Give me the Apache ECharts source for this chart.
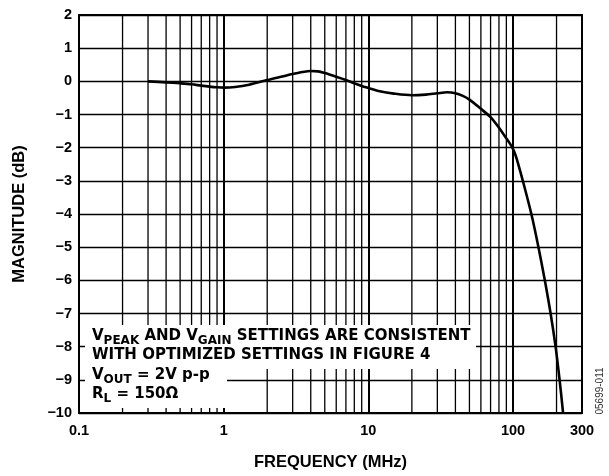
<!DOCTYPE html>
<html>
<head>
<meta charset="utf-8">
<script src="https://cdn.jsdelivr.net/npm/echarts@6/dist/echarts.min.js"></script>
<style>
  html, body { margin: 0; padding: 0; background: #fff; }
  #chart { width: 609px; height: 476px; }
</style>
</head>
<body>
<div id="chart"></div>
<script>
// Frequency (MHz) and magnitude (dB)
const frequency = [0.3, 0.4, 0.5, 0.6, 0.7, 0.8, 0.9, 1.0, 1.2, 1.5, 2, 2.5, 3, 3.5, 4, 4.5, 5, 6, 7, 8, 9, 10, 12, 15, 20, 25, 30, 35, 40, 45, 50, 60, 70, 80, 90, 95, 99, 104, 108, 117, 134, 150, 166, 182, 197, 210, 222];
const magnitude = [0.0, -0.03, -0.06, -0.09, -0.13, -0.16, -0.18, -0.19, -0.17, -0.1, 0.04, 0.14, 0.22, 0.28, 0.31, 0.3, 0.25, 0.14, 0.04, -0.06, -0.14, -0.2, -0.3, -0.37, -0.42, -0.4, -0.36, -0.33, -0.36, -0.44, -0.55, -0.83, -1.08, -1.4, -1.72, -1.87, -2.0, -2.22, -2.45, -3.0, -4.0, -5.0, -6.0, -7.0, -8.0, -9.0, -10.0];
// Minor (log) vertical grid lines
const minorGrid = [0.2, 0.3, 0.4, 0.5, 0.6, 0.7, 0.8, 0.9, 2, 3, 4, 5, 6, 7, 8, 9, 20, 30, 40, 50, 60, 70, 80, 90, 200];
// Axis ranges and tick labels
const xMin = 0.1, xMax = 300;
const yMin = -10, yMax = 2, yStep = 1;
const xTickLabels = { '0.1': '0.1', '1': '1', '10': '10', '100': '100', '300': '300' };
// Annotation lines: [text, isSubscript] pieces
const noteLines = [
  [['V', false], ['PEAK', true], [' AND V', false], ['GAIN', true], [' SETTINGS ARE CONSISTENT', false]],
  [['WITH OPTIMIZED SETTINGS IN FIGURE 4', false]],
  [['V', false], ['OUT', true], [' = 2V p-p', false]],
  [['R', false], ['L', true], [' = 150\u03A9', false]]
];

const FONT = "'Liberation Sans', Arial, sans-serif";
const NOTE_FONT = "'DejaVu Sans', sans-serif";
const MAIN_FS = 15, SUB_FS = 12;
const noteX = 92;
const noteBaselines = [341.7, 360.3, 380, 399.3];
const subDrop = 3.8;

const measureCtx = document.createElement('canvas').getContext('2d');
function textWidth(t, fs) {
  measureCtx.font = 'bold ' + fs + 'px ' + NOTE_FONT;
  return measureCtx.measureText(t).width;
}

function noteElements() {
  const els = [];
  noteLines.forEach(function (parts, li) {
    let x = noteX;
    const base = noteBaselines[li];
    parts.forEach(function (p) {
      const fs = p[1] ? SUB_FS : MAIN_FS;
      const b = p[1] ? base + subDrop : base;
      els.push({
        type: 'text', z: 101, silent: true,
        style: {
          text: p[0], x: x, y: b - 0.346 * fs, align: 'left', verticalAlign: 'middle',
          fontSize: fs, fontWeight: 'bold', fontFamily: NOTE_FONT, fill: '#000', lineHeight: fs + 2
        }
      });
      x += textWidth(p[0], fs);
    });
  });
  return els;
}

const chart = echarts.init(document.getElementById('chart'), null, { renderer: 'canvas' });

const option = {
  animation: false,
  backgroundColor: '#fff',
  grid: { left: 79, right: 27, top: 15, bottom: 60, show: true, borderColor: '#000', borderWidth: 2, backgroundColor: 'transparent' },
  xAxis: {
    type: 'log', logBase: 10, min: xMin, max: xMax,
    name: 'FREQUENCY (MHz)', nameLocation: 'middle', nameGap: 41,
    nameTextStyle: { fontSize: 16.5, fontWeight: 'bold', fontFamily: FONT, color: '#000' },
    axisLine: { show: false },
    axisTick: { show: false },
    axisLabel: {
      fontSize: 14.5, fontWeight: 'bold', fontFamily: FONT, color: '#000', margin: 10,
      formatter: function (v) {
        const key = String(Math.round(v * 10) / 10);
        return xTickLabels[key] !== undefined ? xTickLabels[key] : '';
      }
    },
    splitLine: { show: true, lineStyle: { color: '#000', width: 2 } },
    minorTick: { show: false },
    minorSplitLine: { show: false }
  },
  yAxis: {
    type: 'value', min: yMin, max: yMax, interval: yStep,
    name: 'MAGNITUDE (dB)', nameLocation: 'middle', nameGap: 51,
    nameTextStyle: { fontSize: 16.5, fontWeight: 'bold', fontFamily: FONT, color: '#000' },
    axisLine: { show: false },
    axisTick: { show: false },
    axisLabel: {
      fontSize: 14.5, fontWeight: 'bold', fontFamily: FONT, color: '#000', margin: 7,
      formatter: function (v) { return v < 0 ? '\u2212' + Math.abs(v) : String(v); }
    },
    splitLine: { show: true, lineStyle: { color: '#000', width: 1.4 } }
  },
  series: [
    {
      type: 'custom', z: 1, silent: true, clip: false,
      data: minorGrid.map(function (v) { return [v, yMin]; }),
      encode: { x: 0, y: 1 },
      renderItem: function (params, api) {
        const p1 = api.coord([api.value(0), yMax]);
        const p2 = api.coord([api.value(0), yMin]);
        return { type: 'line', shape: { x1: p1[0], y1: p1[1], x2: p2[0], y2: p2[1] }, style: { stroke: '#000', lineWidth: 1.3 } };
      }
    },
    {
      type: 'line', z: 5, silent: true,
      data: frequency.map(function (f, i) { return [f, magnitude[i]]; }),
      showSymbol: false, smooth: 0.3,
      lineStyle: { color: '#000', width: 2.6 }
    }
  ],
  graphic: {
    elements: [
      { type: 'rect', z: 100, silent: true, shape: { x: 85, y: 325, width: 391, height: 44 }, style: { fill: '#fff' } },
      { type: 'rect', z: 100, silent: true, shape: { x: 85, y: 369, width: 142, height: 39 }, style: { fill: '#fff' } },
      {
        type: 'text', z: 101, silent: true, x: 600, y: 391, rotation: Math.PI / 2,
        style: { text: '05699-011', fontSize: 10, fontFamily: FONT, fill: '#333', align: 'center', verticalAlign: 'middle' }
      }
    ].concat(noteElements())
  }
};

chart.setOption(option);
</script>
</body>
</html>
